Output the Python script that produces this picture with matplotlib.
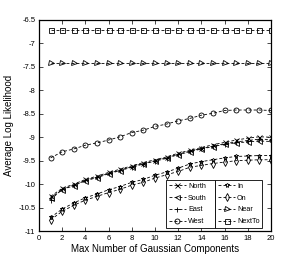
import matplotlib
matplotlib.use("Agg")
import matplotlib.pyplot as plt
import numpy as np

plt.rcParams['font.family'] = ['Liberation Sans', 'DejaVu Sans']
plt.rcParams['axes.unicode_minus'] = False

components = list(range(1, 21))

north = [-10.26, -10.09, -10.00, -9.90, -9.83, -9.75, -9.68, -9.61, -9.54, -9.48,
         -9.42, -9.34, -9.28, -9.22, -9.16, -9.11, -9.06, -9.02, -8.99, -9.00]
south = [-10.30, -10.12, -10.03, -9.93, -9.86, -9.78, -9.71, -9.64, -9.57, -9.51,
         -9.45, -9.37, -9.31, -9.25, -9.20, -9.15, -9.12, -9.10, -9.08, -9.09]
east = [-10.33, -10.11, -10.02, -9.92, -9.85, -9.77, -9.70, -9.63, -9.56, -9.50,
        -9.44, -9.36, -9.30, -9.24, -9.19, -9.14, -9.10, -9.07, -9.04, -9.05]
west = [-9.44, -9.31, -9.25, -9.17, -9.12, -9.06, -8.99, -8.90, -8.85, -8.77,
        -8.72, -8.65, -8.60, -8.53, -8.49, -8.43, -8.42, -8.42, -8.42, -8.43]
in_ = [-10.71, -10.53, -10.40, -10.29, -10.21, -10.12, -10.05, -9.96, -9.90, -9.81,
       -9.74, -9.66, -9.57, -9.52, -9.48, -9.44, -9.41, -9.40, -9.39, -9.39]
on = [-10.76, -10.58, -10.45, -10.34, -10.26, -10.18, -10.11, -10.02, -9.96, -9.87,
      -9.80, -9.73, -9.64, -9.60, -9.56, -9.53, -9.50, -9.49, -9.48, -9.48]
near = [-7.42] * 20
nextto = [-6.71] * 20

series_left = [("North", north, 'x'), ("South", south, '<'),
               ("East", east, '+'), ("West", west, 'o')]
series_right = [("In", in_, '*'), ("On", on, 'd'),
                ("Near", near, '>'), ("NextTo", nextto, 's')]

fig = plt.figure(figsize=(3.0, 2.62), dpi=100)
ax = fig.add_axes([0.13, 0.118, 0.773, 0.806])

style = dict(linestyle='--', color='black', linewidth=0.6, markersize=3.6,
             markerfacecolor='none', markeredgecolor='black',
             markeredgewidth=0.6, dashes=(3.5, 2.5))
handles_l, handles_r = [], []
for name, vals, m in series_left:
    h, = ax.plot(components, vals, marker=m, label=name, **style)
    handles_l.append(h)
for name, vals, m in series_right:
    h, = ax.plot(components, vals, marker=m, label=name, **style)
    handles_r.append(h)

ax.set_xlim(0, 20)
ax.set_ylim(-11, -6.5)
ax.set_xticks(np.arange(0, 21, 2))
ax.set_yticks(np.arange(-11, -6.49, 0.5))
ax.set_yticklabels(['-11', '-10.5', '-10', '-9.5', '-9', '-8.5', '-8', '-7.5', '-7', '-6.5'])
ax.tick_params(direction='in', top=True, right=True, labelsize=5.5, length=3,
               width=0.5, pad=2.5)
for s in ax.spines.values():
    s.set_linewidth(0.9)
ax.set_xlabel("Max Number of Gaussian Components", fontsize=7, labelpad=2)
ax.set_ylabel("Average Log Likelihood", fontsize=7, labelpad=3)

leg_kw = dict(fontsize=5.2, frameon=True, fancybox=False, edgecolor='black',
              handlelength=2.4, handletextpad=0.25, borderpad=0.4,
              labelspacing=0.65, borderaxespad=0, framealpha=1, mode='expand')
leg1 = ax.legend(handles=handles_l, loc='lower left',
                 bbox_to_anchor=(0.547, 0.014, 0.212, 0.218), **leg_kw)
leg1.get_frame().set_linewidth(0.6)
ax.add_artist(leg1)
leg2 = ax.legend(handles=handles_r, loc='lower left',
                 bbox_to_anchor=(0.759, 0.014, 0.202, 0.218), **leg_kw)
leg2.get_frame().set_linewidth(0.6)

fig.savefig("out.png", dpi=100)
